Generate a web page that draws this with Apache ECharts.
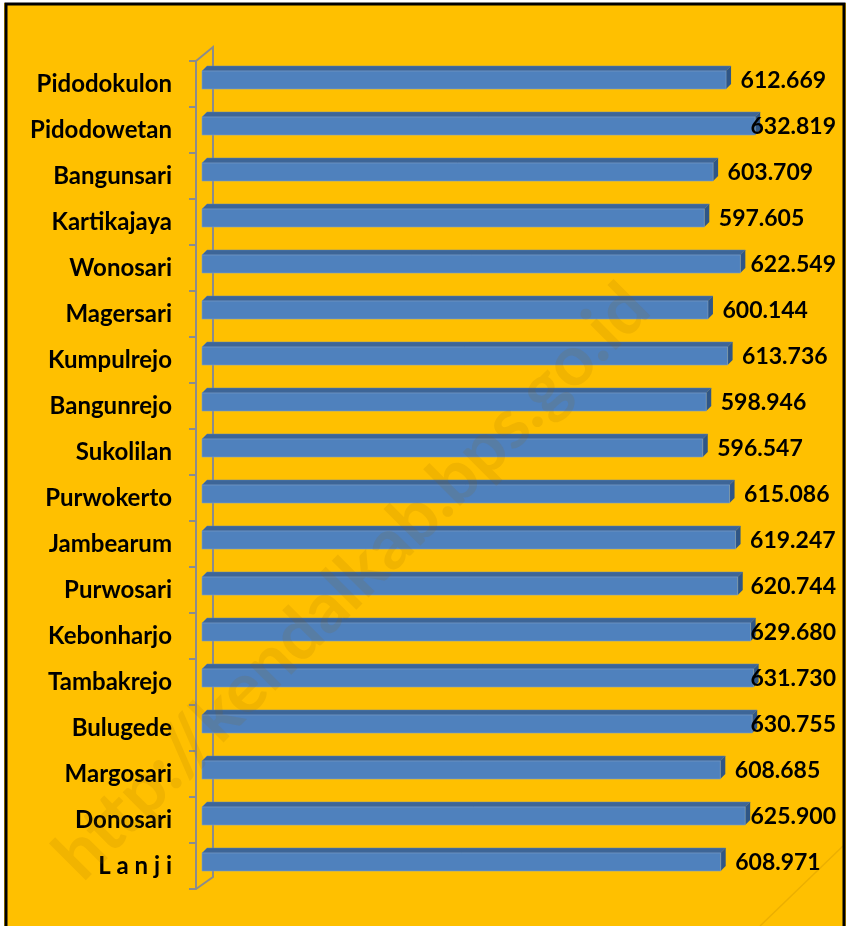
<!DOCTYPE html>
<html>
<head>
<meta charset="utf-8">
<script src="https://cdn.jsdelivr.net/npm/echarts@6/dist/echarts.min.js"></script>
<style>
  html, body { margin: 0; padding: 0; background: #fff; }
  #main { width: 848px; height: 926px; }
</style>
</head>
<body>
<div id="main"></div>
<script>
// desa / kelurahan, urutan dari atas ke bawah
var categories = ['Pidodokulon', 'Pidodowetan', 'Bangunsari', 'Kartikajaya', 'Wonosari',
    'Magersari', 'Kumpulrejo', 'Bangunrejo', 'Sukolilan', 'Purwokerto', 'Jambearum',
    'Purwosari', 'Kebonharjo', 'Tambakrejo', 'Bulugede', 'Margosari', 'Donosari', 'L a n j i'];
var values = [612.669, 632.819, 603.709, 597.605, 622.549, 600.144, 613.736, 598.946, 596.547,
    615.086, 619.247, 620.744, 629.680, 631.730, 630.755, 608.685, 625.900, 608.971];

var FONT = 'bold 23px Lato, "Open Sans", sans-serif';
var DEPTH = 5;          // kedalaman efek 3D
var GRID_LEFT = 202, GRID_TOP = 61, GRID_BOTTOM = 37, GRID_W = 578;
var AX_X = GRID_LEFT - 6;   // garis sumbu depan
var WALL = 17;              // lebar dinding belakang
var axisColor = '#8c8c8c';

window.addEventListener('load', function () {
    var myChart = echarts.init(document.getElementById('main'));
    var axisBottom = 926 - GRID_BOTTOM;

    function renderBar(params, api) {
        var v = api.value(0);
        var p0 = api.coord([250, api.value(1)]);
        var p1 = api.coord([v, api.value(1)]);
        var cy = p0[1] - 4;
        var x0 = p0[0], x1 = p1[0];
        var y0 = cy - 9, y1 = cy + 9;
        var d = DEPTH;
        var lx = Math.min(x1 + d + 9 + 86, 836);
        return {
            type: 'group',
            children: [
                { type: 'polygon', shape: { points: [[x0, y0], [x0 + d, y0 - d], [x1 + d, y0 - d], [x1, y0]] },
                  style: { fill: '#3d6597', stroke: '#5a82b4', lineWidth: 0.5 } },
                { type: 'polygon', shape: { points: [[x1, y0], [x1 + d, y0 - d], [x1 + d, y1 - d], [x1, y1]] },
                  style: { fill: '#2f5686' } },
                { type: 'rect', shape: { x: x0, y: y0, width: x1 - x0, height: y1 - y0 },
                  style: { fill: '#4f81bd', stroke: '#7d9fc8', lineWidth: 0.6 } },
                { type: 'text', z2: 10, style: { text: v.toFixed(3), x: lx, y: cy + 1, align: 'right',
                  verticalAlign: 'middle', font: FONT, fill: '#000' } }
            ]
        };
    }

    var option = {
        backgroundColor: '#ffc000',
        animation: false,
        grid: { left: GRID_LEFT, top: GRID_TOP, bottom: GRID_BOTTOM, width: GRID_W, containLabel: false },
        xAxis: {
            type: 'value', min: 250, max: 650, show: false
        },
        yAxis: {
            type: 'category',
            inverse: true,
            data: categories,
            offset: GRID_LEFT - AX_X,
            axisLine: { show: true, lineStyle: { color: axisColor, width: 2 } },
            axisTick: { show: true, length: 7, lineStyle: { color: axisColor, width: 2 } },
            axisLabel: { margin: 24, color: '#000', fontFamily: 'Lato, "Open Sans", sans-serif',
                fontWeight: 'bold', fontSize: 24 },
            splitLine: { show: false }
        },
        graphic: [
            // dinding belakang sumbu kategori
            { type: 'polyline', z: 1,
              shape: { points: [[AX_X, GRID_TOP], [AX_X + WALL, GRID_TOP - 14],
                                [AX_X + WALL, axisBottom - 12], [AX_X, axisBottom]] },
              style: { stroke: axisColor, lineWidth: 2, fill: null } },
            // watermark
            { type: 'text', z: 100, x: 352, y: 582, rotation: Math.PI / 4,
              style: { text: 'http://kendalkab.bps.go.id', font: 'bold 70px Lato, sans-serif',
                       fill: 'rgba(150,100,0,0.13)', align: 'center', verticalAlign: 'middle' } },
            { type: 'line', z: 100, shape: { x1: 760, y1: 926, x2: 843, y2: 846 },
              style: { stroke: 'rgba(150,100,0,0.18)', lineWidth: 1.5 } },
            // bingkai
            { type: 'rect', z: 100, shape: { x: 6, y: 4, width: 838, height: 930 },
              style: { fill: null, stroke: '#000', lineWidth: 3 } },
            { type: 'rect', z: 99, shape: { x: 0, y: 0, width: 848, height: 3 }, style: { fill: '#fff' } },
            { type: 'rect', z: 99, shape: { x: 0, y: 0, width: 4, height: 926 }, style: { fill: '#fff' } },
            { type: 'rect', z: 99, shape: { x: 846, y: 0, width: 2, height: 926 }, style: { fill: '#fff' } }
        ],
        series: [{
            type: 'custom',
            renderItem: renderBar,
            encode: { x: 0, y: 1 },
            data: values.map(function (v, i) { return [v, i]; })
        }]
    };
    myChart.setOption(option);
}, false);
</script>
</body>
</html>
